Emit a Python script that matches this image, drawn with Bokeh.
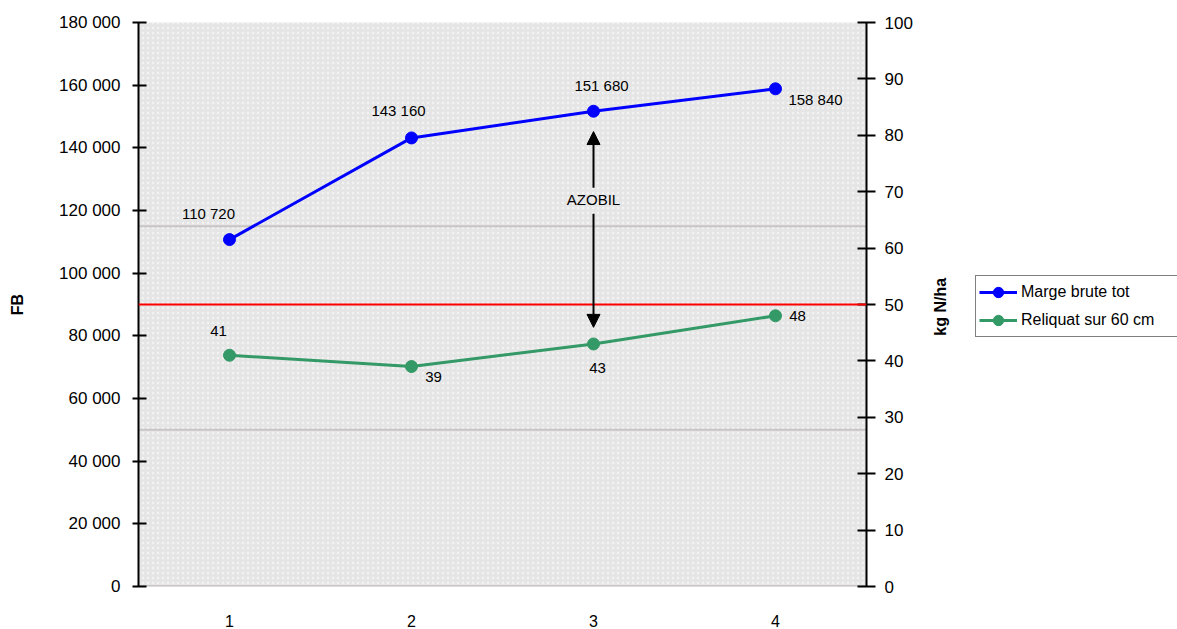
from bokeh.plotting import figure
from bokeh.layouts import row
from bokeh.models import (Range1d, LinearAxis, FixedTicker, Span, Arrow, NormalHead,
                          Label, ColumnDataSource, Legend, LegendItem, BoxAnnotation)
from bokeh.core.properties import value
from bokeh.embed import file_html
from bokeh.resources import INLINE

# ---------------- data ----------------
categories = [1, 2, 3, 4]
marge_brute = [110720, 143160, 151680, 158840]          # FB (left axis)
reliquat = [41, 39, 43, 48]                              # kg N/ha (right axis)
marge_labels = ["110 720", "143 160", "151 680", "158 840"]
reliquat_labels = ["41", "39", "43", "48"]
left_ticks = [0, 20000, 40000, 60000, 80000, 100000, 120000, 140000, 160000, 180000]
right_ticks = [0, 10, 20, 30, 40, 50, 60, 70, 80, 90, 100]
seuil_reliquat = 50            # red reference line (kg N/ha)
texture_lines = [115000, 50000, 0]   # grey seams of the background texture (FB)

# label offsets (screen px) - style only
marge_xoff = [-21, -13, 8, 40]
marge_yoff = [-26, -27, -26, 11]
rel_xoff = [-11, 22, 4, 22]
rel_yoff = [-24, 10, 24, 0]

FONT = "Liberation Sans"
BLUE = "#0000ff"
GREEN = "#339966"

MAIN_W, H = 930, 629
SIDE_W = 1177 - MAIN_W

p = figure(width=MAIN_W, height=H, output_backend="svg", toolbar_location=None,
           x_range=Range1d(0.5, 4.5), y_range=Range1d(0, 180000),
           min_border_left=138, min_border_right=64, min_border_top=22,
           min_border_bottom=43)
p.extra_y_ranges = {"right": Range1d(0, 100)}
p.background_fill_color = "#e5e5e5"
p.border_fill_color = "white"
p.outline_line_color = None
p.xgrid.visible = False
p.ygrid.visible = False

# subtle texture
p.add_layout(BoxAnnotation(fill_alpha=0, line_color=None, hatch_pattern="dot",
                           hatch_color="#f5f5f5", hatch_alpha=0.9, hatch_scale=5,
                           hatch_weight=1.5, level="underlay"))

# background seams
for v in texture_lines:
    p.add_layout(Span(location=v, dimension="width", line_color="#c9c5c5",
                      line_width=2 if v else 3, level="underlay"))

# red threshold line
p.add_layout(Span(location=seuil_reliquat, dimension="width", y_range_name="right",
                  line_color="#ff0000", line_width=2))

# x axis
xa = p.xaxis[0]
xa.ticker = FixedTicker(ticks=categories)
xa.axis_line_color = None
xa.major_tick_line_color = None
xa.minor_tick_line_color = None
xa.major_label_standoff = 22
xa.major_label_text_font = FONT
xa.major_label_text_font_size = "16px"
xa.major_label_text_color = "black"

# left axis
ya = p.yaxis[0]
ya.ticker = FixedTicker(ticks=left_ticks)
ya.major_label_overrides = {t: f"{t:,}".replace(",", " ") for t in left_ticks}
ya.axis_line_color = "black"
ya.axis_line_width = 2
ya.major_tick_line_color = "black"
ya.major_tick_line_width = 2
ya.major_tick_in = 8
ya.major_tick_out = 6
ya.minor_tick_line_color = None
ya.major_label_standoff = 12
ya.major_label_text_font = FONT
ya.major_label_text_font_size = "17px"
ya.major_label_text_color = "black"
ya.axis_label = "FB"
ya.axis_label_text_font = FONT
ya.axis_label_text_font_size = "16px"
ya.axis_label_text_font_style = "bold"
ya.axis_label_text_color = "black"
ya.axis_label_standoff = 30

# right axis
ra = LinearAxis(y_range_name="right", ticker=FixedTicker(ticks=right_ticks))
ra.axis_line_color = "black"
ra.axis_line_width = 2
ra.major_tick_line_color = "black"
ra.major_tick_line_width = 2
ra.major_tick_in = 9
ra.major_tick_out = 9
ra.minor_tick_line_color = None
ra.major_label_standoff = 9
ra.major_label_text_font = FONT
ra.major_label_text_font_size = "17px"
ra.major_label_text_color = "black"
p.add_layout(ra, "right")

# series
p.line(categories, marge_brute, line_color=BLUE, line_width=3)
p.scatter(categories, marge_brute, size=12, fill_color=BLUE, line_color=BLUE)
p.line(categories, reliquat, line_color=GREEN, line_width=3, y_range_name="right")
p.scatter(categories, reliquat, size=12, fill_color=GREEN, line_color=GREEN,
          y_range_name="right")

src_b = ColumnDataSource(dict(x=categories, y=marge_brute, t=marge_labels,
                              xo=marge_xoff, yo=marge_yoff))
p.text(x="x", y="y", text="t", x_offset="xo", y_offset="yo", source=src_b,
       text_align="center", text_baseline="middle", text_font=value(FONT),
       text_font_size="15px", text_color="black")
src_g = ColumnDataSource(dict(x=categories, y=reliquat, t=reliquat_labels,
                              xo=rel_xoff, yo=rel_yoff))
p.text(x="x", y="y", text="t", x_offset="xo", y_offset="yo", source=src_g,
       y_range_name="right", text_align="center", text_baseline="middle",
       text_font=value(FONT), text_font_size="15px", text_color="black")

# AZOBIL annotation
azobil_x = 3
p.add_layout(Arrow(end=NormalHead(size=13, fill_color="black", line_color="black"),
                   x_start=azobil_x, y_start=127300, x_end=azobil_x, y_end=145200,
                   line_color="black", line_width=2))
p.add_layout(Arrow(end=NormalHead(size=13, fill_color="black", line_color="black"),
                   x_start=azobil_x, y_start=119000, x_end=azobil_x, y_end=82700,
                   line_color="black", line_width=2))
p.add_layout(Label(x=azobil_x, y=123500, text="AZOBIL", text_align="center",
                   text_baseline="middle", text_font=FONT, text_font_size="15px",
                   text_color="black"))

# ---------------- side panel: right axis title + legend ----------------
s = figure(width=SIDE_W, height=H, output_backend="svg", toolbar_location=None,
           x_range=Range1d(0, SIDE_W), y_range=Range1d(0, H),
           x_axis_type=None, y_axis_type=None, min_border=0)
s.outline_line_color = None
s.xgrid.visible = False
s.ygrid.visible = False
s.background_fill_color = "white"
s.border_fill_color = "white"

s.add_layout(Label(x=940 - MAIN_W, y=H - 317, text="kg N/ha", angle=90,
                   angle_units="deg", text_align="center", text_baseline="middle",
                   text_font=FONT, text_font_size="16px", text_font_style="bold",
                   text_color="black"))

# hidden copies of the series, used only as legend glyphs
lb = s.line(categories, marge_brute, line_color=BLUE, line_width=3, visible=False)
sb = s.scatter(categories, marge_brute, size=12, fill_color=BLUE, line_color=BLUE,
               visible=False)
lg = s.line(categories, reliquat, line_color=GREEN, line_width=3, visible=False)
sg = s.scatter(categories, reliquat, size=12, fill_color=GREEN, line_color=GREEN,
               visible=False)

legend = Legend(items=[LegendItem(label="Marge brute tot", renderers=[lb, sb]),
                       LegendItem(label="Reliquat sur 60 cm", renderers=[lg, sg])],
                location=(975 - MAIN_W, H - 380), orientation="vertical",
                border_line_color="black", border_line_width=1,
                background_fill_color="white", background_fill_alpha=1,
                label_text_font=FONT, label_text_font_size="16px",
                label_text_color="black", glyph_width=38, glyph_height=26,
                label_height=20, label_width=154, click_policy="none",
                label_standoff=4, padding=3, spacing=2, margin=0)
s.add_layout(legend)

layout = row(p, s, spacing=0)
open("out.html", "w").write(file_html(layout, INLINE))
